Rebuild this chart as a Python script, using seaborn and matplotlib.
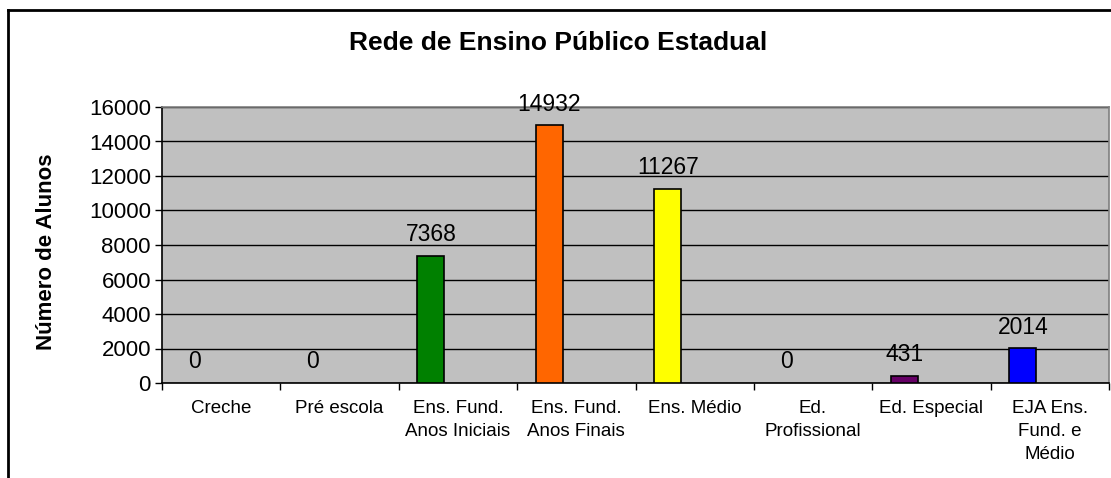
import matplotlib
matplotlib.use("Agg")
import matplotlib.pyplot as plt
import seaborn as sns
from matplotlib.lines import Line2D

categorias = ["Creche", "Pré escola", "Ens. Fund.\nAnos Iniciais", "Ens. Fund.\nAnos Finais",
              "Ens. Médio", "Ed.\nProfissional", "Ed. Especial", "EJA Ens.\nFund. e\nMédio"]
alunos = [0, 0, 7368, 14932, 11267, 0, 431, 2014]
cores = ["#008000", "#008000", "#008000", "#FF6600", "#FFFF00", "#008000", "#660066", "#0000FF"]

plt.rcParams["font.family"] = ["Liberation Sans", "DejaVu Sans"]

fig = plt.figure(figsize=(11.11, 4.78), dpi=100)
ax = fig.add_axes([162 / 1111, 1 - 383 / 478, (1109 - 162) / 1111, (383 - 107) / 478])

bar_w = 0.228
sns.barplot(x=categorias, y=alunos, hue=categorias, palette=cores, legend=False, saturation=1,
            width=bar_w, edgecolor="black", linewidth=1.2, ax=ax, zorder=3)

# excel puts the bar left of the category centre
for p, v in zip(ax.patches, alunos):
    p.set_x(p.get_x() - bar_w)
    if v == 0:
        p.set_linewidth(0)

for i, v in enumerate(alunos):
    ax.annotate(str(v), (i - bar_w, v), xytext=(0, 7), textcoords="offset points",
                ha="center", va="bottom", fontsize=16.5)

ax.set_facecolor("#C0C0C0")
ax.set_ylim(0, 16000)
ax.set_xlim(-0.5, len(categorias) - 0.5)
ax.set_yticks(range(0, 16001, 2000))
ax.yaxis.grid(True, color="black", lw=1)
ax.set_axisbelow(True)

ax.set_xticks(range(len(categorias)))
ax.set_xticklabels(categorias, fontsize=13.5, linespacing=1.45)
ax.set_xticks([i - 0.5 for i in range(len(categorias) + 1)], minor=True)
ax.tick_params(axis="x", which="major", length=0, pad=12.5)
ax.tick_params(axis="x", which="minor", length=5, width=1, color="black")
ax.tick_params(axis="y", labelsize=16, length=5, width=1, color="black", pad=3)
for lbl in ax.get_xticklabels():
    lbl.set_verticalalignment("top")

ax.spines["left"].set_color("black")
ax.spines["bottom"].set_color("black")
ax.spines["top"].set_color("#808080")
ax.spines["right"].set_color("#808080")
for s in ax.spines.values():
    s.set_linewidth(1.2)

ax.set_xlabel("")
ax.set_ylabel("")
fig.text(47 / 1111, 1 - 252 / 478, "Número de Alunos", rotation=90, ha="center", va="center",
         fontsize=16, fontweight="bold")
fig.text(558 / 1111, 1 - 43 / 478, "Rede de Ensino Público Estadual", ha="center", va="center",
         fontsize=19, fontweight="bold")

# outer chart frame, only top and left visible in the crop
fig.add_artist(Line2D([8 / 1111, 8 / 1111], [0, 1 - 10 / 478], color="black", lw=2))
fig.add_artist(Line2D([8 / 1111, 1], [1 - 10 / 478, 1 - 10 / 478], color="black", lw=2))

fig.savefig("out.png", dpi=100)
